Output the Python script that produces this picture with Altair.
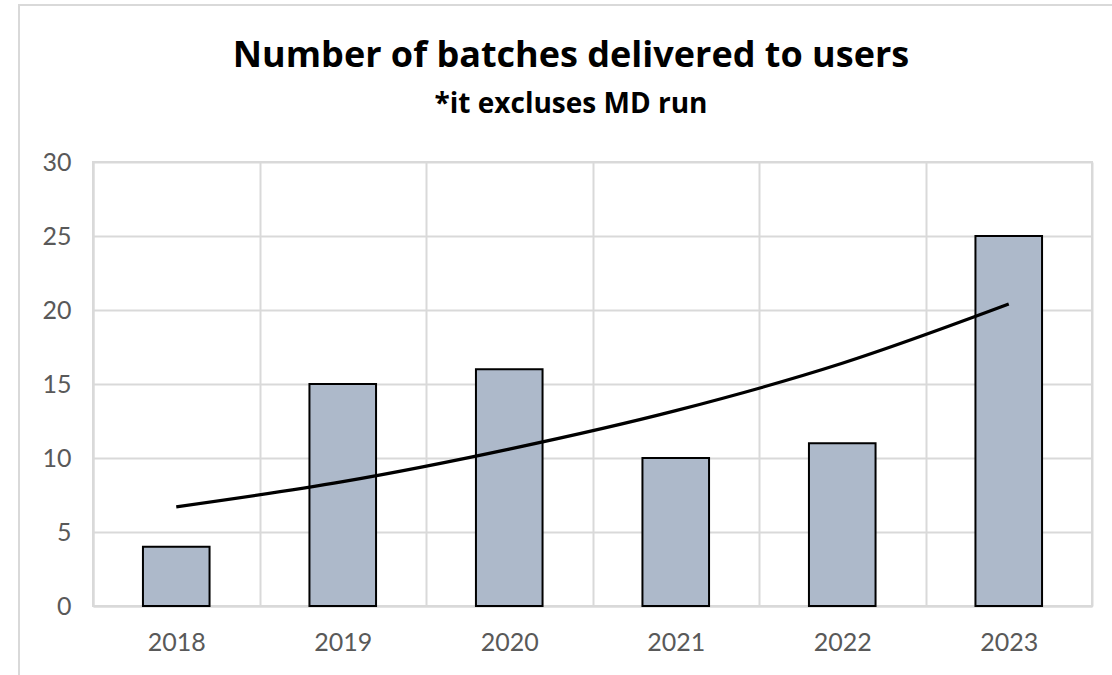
import altair as alt
import pandas as pd

years = ["2018", "2019", "2020", "2021", "2022", "2023"]
batches = [4, 15, 16, 10, 11, 25]
trend = [6.7, 8.4, 10.6, 13.2, 16.4, 20.4]
y_ticks = [0, 5, 10, 15, 20, 25, 30]
title_text = "Number of batches delivered to users"
subtitle_text = "*it excluses MD run"

df = pd.DataFrame({"year": years, "batches": batches, "trend": trend})

GRID = "#d9d9d9"
LABEL = "#595959"

x_axis = alt.Axis(
    title=None, labelAngle=0, grid=True, gridColor=GRID, gridWidth=2,
    tickBand="extent", ticks=False, domainColor=GRID, domainWidth=2,
    labelFont="Lato", labelFontSize=25, labelColor=LABEL, labelPadding=24,
)
y_axis = alt.Axis(
    title=None, values=y_ticks, grid=True, gridColor=GRID, gridWidth=2,
    ticks=False, domainColor=GRID, domainWidth=2,
    labelFont="Lato", labelFontSize=25, labelColor=LABEL, labelPadding=22,
)
x_scale = alt.Scale(paddingInner=0, paddingOuter=0)
y_scale = alt.Scale(domain=[0, 30], nice=False)

one = pd.DataFrame({"a": [0]})

border = alt.Chart(one).mark_rect(
    fill=None, stroke=GRID, strokeWidth=2
).encode(
    x=alt.value(-74), x2=alt.value(1080), y=alt.value(-157), y2=alt.value(560)
)

title = alt.Chart(one).mark_text(
    text=title_text, font="Open Sans", fontSize=36, fontWeight="bold", color="black",
    align="center", baseline="alphabetic",
).encode(x=alt.value(478), y=alt.value(-95))

subtitle = alt.Chart(one).mark_text(
    text=subtitle_text, font="Open Sans", fontSize=28, fontWeight="bold", color="black",
    align="center", baseline="alphabetic",
).encode(x=alt.value(478), y=alt.value(-49))

bars = alt.Chart(df).mark_bar(
    width=alt.RelativeBandSize(0.4), fill="#ADB9CA", stroke="black", strokeWidth=2
).encode(
    x=alt.X("year:N", scale=x_scale, axis=x_axis, sort=years),
    y=alt.Y("batches:Q", scale=y_scale, axis=y_axis),
)

line = alt.Chart(df).mark_line(
    color="black", strokeWidth=3.2, interpolate="monotone"
).encode(
    x=alt.X("year:N", scale=x_scale, axis=x_axis, sort=years),
    y=alt.Y("trend:Q", scale=y_scale, axis=y_axis),
)

chart = alt.layer(border, title, subtitle, bars, line).properties(
    width=999,
    height=444,
    autosize=alt.AutoSizeParams(type="none"),
    padding={"left": 93, "top": 162, "right": 20, "bottom": 69},
    background="white",
).configure_view(stroke=GRID, strokeWidth=2)

chart.save("out.html", embed_options={"renderer": "svg", "actions": False})
